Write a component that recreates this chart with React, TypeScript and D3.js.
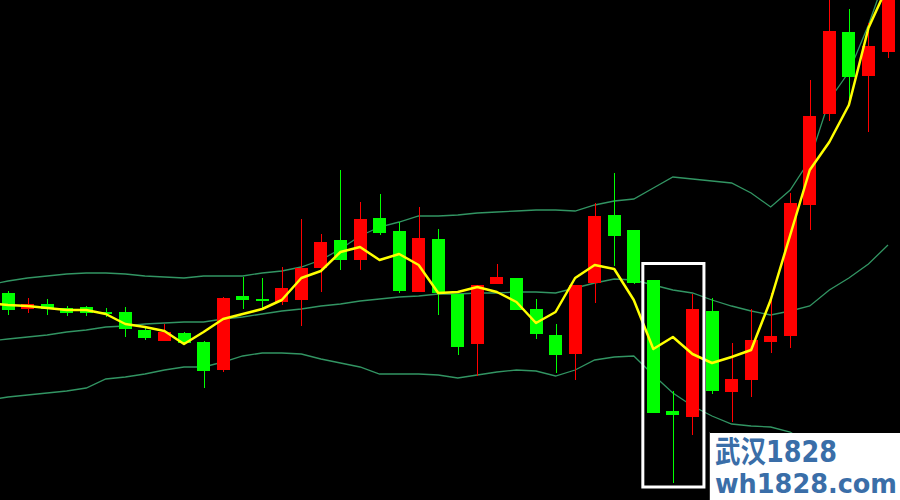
import React from "react";
import * as d3 from "d3";

// OHLC (price units), red = rising, green = falling
const opens = [207,191,196,192,193,188,188,170,159,167,158,130,204,201,198,200,232,260,240,282,269,208,261,206,156,216,222,191,165,146,217,285,270,220,89,83,189,108,120,158,164,295,386,468,424,448];
const highs = [209,202,201,194,194,192,193,172,176,168,159,203,223,222,233,281,266,330,298,306,278,293,271,206,215,236,222,201,176,215,297,327,270,220,109,206,202,157,191,207,307,420,510,491,477,530];
const lows =  [185,187,185,184,184,183,163,160,159,155,112,128,191,191,195,174,208,230,230,265,207,208,185,145,124,216,190,161,127,120,197,234,216,87,17,65,106,78,103,147,152,270,379,401,368,442];
const closes = [190,196,191,187,187,187,171,162,168,157,129,202,200,200,212,232,258,240,281,267,209,262,207,153,215,223,190,166,145,215,284,264,217,87,85,191,109,121,160,164,297,384,469,423,454,520];

// Indicator series (first value belongs to the bar just left of the window)
const maLine = [197,195,194,192,190,190,186,176,173,169,156,168,181,186,191,200,222,229,248,253,240,246,235,207,208,213,208,198,177,188,222,235,231,200,151,163,146,137,143,150,200,265,330,358,395,472,515];
const bandUpper = [215,219,222,224,226,227,227,226,224,223,222,224,224,224,227,229,233,240,251,264,273,278,284,284,285,287,288,289,290,290,289,295,299,301,312,323,321,319,317,307,293,310,340,400,428,475,530];
const bandMiddle = [159,161,163,165,168,170,173,174,176,177,178,178,181,183,186,189,191,194,196,199,201,203,204,206,206,207,207,208,208,207,212,217,221,220,215,210,207,200,194,189,185,189,194,210,222,236,255];
const bandLower = [100,103,105,107,109,112,121,123,126,130,133,133,138,144,147,147,146,141,137,133,126,126,126,125,122,125,128,130,129,124,130,140,143,144,125,107,94,84,76,74,73,68,55,40,20,0,-20];

// Highlighted bars (indices) and price range
const highlightBars = [33, 35];
const highlightRange = [13, 238];

const watermarkLines = ["武汉1828", "wh1828.com"];

const W = 900;
const H = 500;

export default function App() {
  const x = d3.scaleLinear().domain([0, 45]).range([8, 888]);
  const y = d3.scaleLinear().domain([0, 500]).range([H, 0]);
  const bw = 13;

  const lineGen = d3
    .line<number>()
    .x((_, i) => x(i - 1))
    .y((d) => y(d));

  const up = "#ff0000";
  const down = "#00ff00";
  const band = "#329563";

  const hx0 = x(highlightBars[0]) - 12;
  const hx1 = x(highlightBars[1]) + 13;
  const hy0 = y(highlightRange[1]) + 1.5;
  const hy1 = y(highlightRange[0]);

  return (
    <div style={{ position: "fixed", left: 0, top: 0, width: W, height: H }}>
      <svg width={W} height={H} style={{ display: "block", background: "#000" }}>
        <defs>
          <clipPath id="plot">
            <rect x={0} y={0} width={W} height={H} />
          </clipPath>
        </defs>
        <rect x={0} y={0} width={W} height={H} fill="#000" />
        <g clipPath="url(#plot)">
          <path d={lineGen(bandUpper) || ""} fill="none" stroke={band} strokeWidth={1.3} />
          <path d={lineGen(bandMiddle) || ""} fill="none" stroke={band} strokeWidth={1.3} />
          <path d={lineGen(bandLower) || ""} fill="none" stroke={band} strokeWidth={1.3} />
          {opens.map((o, i) => {
            const c = closes[i];
            const isUp = c >= o;
            const col = isUp ? up : down;
            const cx = Math.round(x(i)) + 0.5;
            const top = y(Math.max(o, c));
            const bot = y(Math.min(o, c));
            return (
              <g key={i}>
                <line x1={cx} x2={cx} y1={y(highs[i])} y2={y(lows[i])} stroke={col} strokeWidth={1} />
                <rect
                  x={Math.round(x(i) - bw / 2)}
                  y={top}
                  width={bw}
                  height={Math.max(2, bot - top)}
                  fill={col}
                />
              </g>
            );
          })}
          <path d={lineGen(maLine) || ""} fill="none" stroke="#ffff00" strokeWidth={2.5} strokeLinejoin="round" />
          <rect
            x={hx0 + 1.5}
            y={hy0}
            width={hx1 - hx0 - 3}
            height={hy1 - hy0}
            fill="none"
            stroke="#ffffff"
            strokeWidth={3}
          />
        </g>
        <rect x={709} y={432} width={1} height={68} fill="#333" />
        <rect x={710} y={433} width={190} height={67} fill="#ffffff" />
        <text
          x={715}
          y={462}
          fontFamily="'DejaVu Sans', 'Noto Sans CJK SC', sans-serif"
          fontWeight="bold"
          fontSize={30}
          fill="#3a6ea8"
          textLength={122}
          lengthAdjust="spacingAndGlyphs"
        >
          {watermarkLines[0]}
        </text>
        <text
          x={715}
          y={493}
          fontFamily="'DejaVu Sans', sans-serif"
          fontWeight="bold"
          fontSize={26}
          fill="#3a6ea8"
          textLength={182}
          lengthAdjust="spacingAndGlyphs"
        >
          {watermarkLines[1]}
        </text>
      </svg>
    </div>
  );
}
